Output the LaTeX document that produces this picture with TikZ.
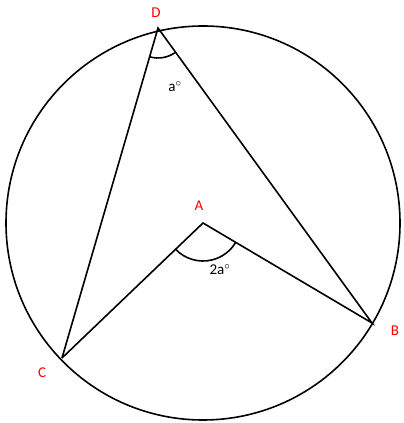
\documentclass[tikz,border=0pt]{standalone}
\usepackage{fontspec}
\setmainfont{Carlito}
\begin{document}
\begin{tikzpicture}[x=1pt,y=1pt,line width=1.6pt,
  pt/.style={inner sep=0pt,font=\fontsize{15}{17}\selectfont,text=red},
  lab/.style={inner sep=0pt,font=\fontsize{15}{17}\selectfont}]
\useasboundingbox (0,0) rectangle (404,423);
\coordinate (O) at (203,200);
\coordinate (D) at (158,395);
\coordinate (A) at (203,200);
\coordinate (B) at (372,100);
\coordinate (C) at (62,65);
\draw (O) circle (197);
\draw (C) -- (D) -- (B) -- (A) -- (C);
\draw ([shift={(223.8:38)}]A) arc (223.8:329.4:38);
\draw ([shift={(253.8:30)}]D) arc (253.8:306:30);
\node[pt] (lD) at (156,410) {D};
\node[pt] (lA) at (199,217) {A};
\node[pt] (lB) at (395,92) {B};
\node[pt] (lC) at (42,50) {C};
\node[lab] (la) at (175,336) {a$^{\circ}$};
\node[lab] (l2a) at (220,153) {2a$^{\circ}$};
\end{tikzpicture}
\end{document}
